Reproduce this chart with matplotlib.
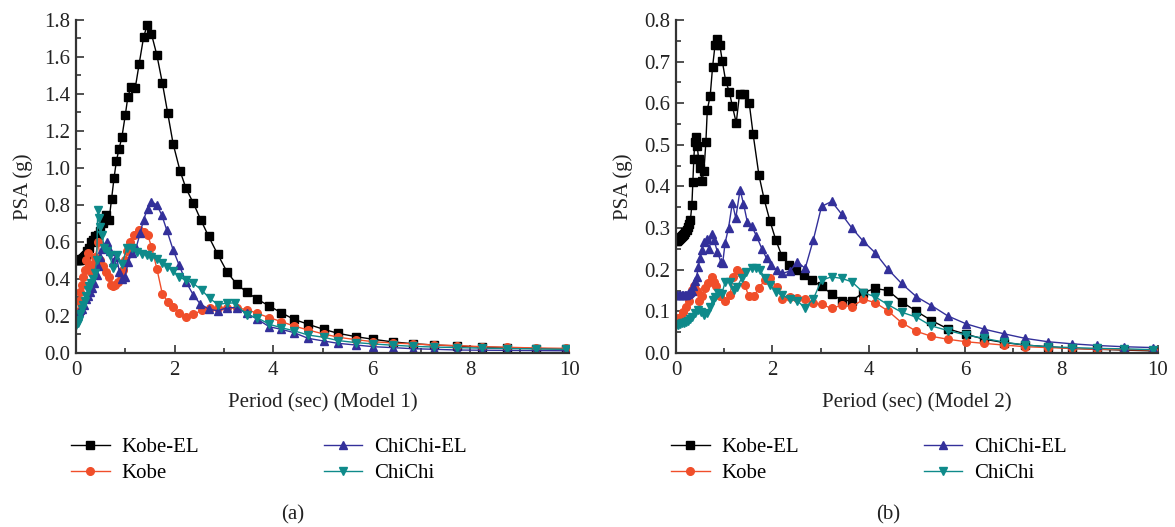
import matplotlib
matplotlib.use("Agg")
import matplotlib.pyplot as plt
from matplotlib.ticker import MultipleLocator, FormatStrFormatter

plt.rcParams['font.family'] = ['Liberation Serif', 'DejaVu Serif']

# ---- Model 1 (left panel) ----
m1_kobe_el_t = [0.0, 0.02, 0.04, 0.06, 0.08, 0.10, 0.12, 0.14, 0.16, 0.18, 0.20, 0.23, 0.26, 0.30, 0.34,
                0.39, 0.44, 0.49, 0.55, 0.61, 0.67, 0.72, 0.77, 0.82, 0.87, 0.93, 1.00, 1.05, 1.11, 1.20,
                1.28, 1.37, 1.44, 1.53, 1.64, 1.75, 1.86, 1.97, 2.11, 2.23, 2.38, 2.53, 2.69, 2.87, 3.06,
                3.26, 3.46, 3.68, 3.92, 4.16, 4.42, 4.71, 5.02, 5.32, 5.68, 6.03, 6.42, 6.84, 7.27, 7.73,
                8.24, 8.75, 9.32, 9.93]
m1_kobe_el_psa = [0.50, 0.50, 0.50, 0.50, 0.505, 0.51, 0.51, 0.515, 0.52, 0.525, 0.53, 0.55, 0.57, 0.60, 0.61,
                  0.63, 0.64, 0.66, 0.70, 0.745, 0.72, 0.83, 0.944, 1.04, 1.10, 1.166, 1.287, 1.382, 1.436, 1.43,
                  1.562, 1.706, 1.771, 1.724, 1.61, 1.461, 1.296, 1.13, 0.984, 0.89, 0.81, 0.72, 0.63, 0.535, 0.44,
                  0.371, 0.33, 0.29, 0.254, 0.218, 0.182, 0.155, 0.128, 0.106, 0.088, 0.074, 0.06, 0.05, 0.043, 0.038,
                  0.032, 0.029, 0.024, 0.022]

m1_kobe_t = [0.0, 0.03, 0.06, 0.09, 0.12, 0.15, 0.18, 0.21, 0.24, 0.27, 0.30, 0.34, 0.39, 0.45, 0.49,
             0.55, 0.61, 0.66, 0.70, 0.75, 0.80, 0.85, 0.91, 0.96, 1.00, 1.04, 1.09, 1.17, 1.28, 1.37,
             1.45, 1.53, 1.64, 1.75, 1.86, 1.97, 2.09, 2.23, 2.38, 2.55, 2.71, 2.87, 3.06, 3.26, 3.46,
             3.68, 3.92, 4.16, 4.42, 4.71, 5.02, 5.32, 5.68, 6.03, 6.42, 6.84, 7.27, 7.73, 8.24, 8.75,
             9.32, 9.93]
m1_kobe_psa = [0.18, 0.22, 0.28, 0.33, 0.37, 0.41, 0.45, 0.50, 0.54, 0.47, 0.44, 0.48, 0.52, 0.60, 0.50,
               0.47, 0.44, 0.41, 0.37, 0.36, 0.37, 0.385, 0.42, 0.45, 0.50, 0.55, 0.60, 0.64, 0.665, 0.655,
               0.64, 0.575, 0.455, 0.32, 0.277, 0.25, 0.218, 0.196, 0.209, 0.23, 0.243, 0.243, 0.243, 0.243, 0.235,
               0.214, 0.191, 0.17, 0.146, 0.124, 0.103, 0.085, 0.072, 0.061, 0.054, 0.049, 0.043, 0.04, 0.034, 0.031,
               0.027, 0.025]

m1_chichi_el_t = [0.0, 0.03, 0.06, 0.09, 0.12, 0.16, 0.20, 0.24, 0.28, 0.32, 0.37, 0.42, 0.45, 0.49, 0.53,
                  0.58, 0.63, 0.69, 0.75, 0.82, 0.88, 0.93, 0.99, 1.06, 1.13, 1.22, 1.30, 1.37, 1.45, 1.53,
                  1.64, 1.74, 1.84, 1.97, 2.09, 2.23, 2.38, 2.52, 2.70, 2.88, 3.06, 3.26, 3.46, 3.68, 3.92,
                  4.16, 4.42, 4.71, 5.02, 5.32, 5.68, 6.03, 6.42, 6.84, 7.27, 7.73, 8.24, 8.75, 9.32, 9.93]
m1_chichi_el_psa = [0.20, 0.21, 0.22, 0.23, 0.24, 0.26, 0.29, 0.31, 0.33, 0.35, 0.38, 0.42, 0.47, 0.52, 0.56,
                    0.58, 0.60, 0.55, 0.49, 0.52, 0.44, 0.40, 0.41, 0.49, 0.54, 0.57, 0.647, 0.72, 0.78, 0.818,
                    0.80, 0.745, 0.665, 0.557, 0.476, 0.385, 0.313, 0.265, 0.236, 0.228, 0.245, 0.245, 0.215, 0.182, 0.142,
                    0.128, 0.11, 0.079, 0.065, 0.052, 0.043, 0.034, 0.029, 0.023, 0.02, 0.016, 0.015, 0.014, 0.013, 0.012]

m1_chichi_t = [0.0, 0.03, 0.06, 0.09, 0.12, 0.15, 0.18, 0.21, 0.24, 0.27, 0.30, 0.34, 0.38, 0.42, 0.44,
               0.47, 0.49, 0.53, 0.57, 0.62, 0.68, 0.75, 0.83, 0.93, 1.03, 1.13, 1.23, 1.33, 1.43, 1.53,
               1.64, 1.74, 1.84, 1.97, 2.09, 2.23, 2.38, 2.55, 2.71, 2.88, 3.06, 3.23, 3.46, 3.68, 3.92,
               4.16, 4.42, 4.71, 5.02, 5.32, 5.68, 6.03, 6.42, 6.84, 7.27, 7.73, 8.24, 8.75, 9.32, 9.93]
m1_chichi_psa = [0.15, 0.16, 0.18, 0.21, 0.24, 0.26, 0.28, 0.31, 0.34, 0.36, 0.376, 0.40, 0.43, 0.50, 0.773,
                 0.728, 0.68, 0.64, 0.57, 0.55, 0.53, 0.457, 0.53, 0.48, 0.565, 0.565, 0.545, 0.535, 0.53, 0.52,
                 0.51, 0.485, 0.467, 0.444, 0.41, 0.394, 0.376, 0.34, 0.295, 0.262, 0.27, 0.27, 0.205, 0.19, 0.155,
                 0.137, 0.12, 0.097, 0.085, 0.067, 0.056, 0.049, 0.042, 0.036, 0.032, 0.029, 0.026, 0.024, 0.022, 0.02]

# ---- Model 2 (right panel) ----
m2_kobe_el_t = [0.0, 0.02, 0.04, 0.06, 0.08, 0.10, 0.12, 0.14, 0.16, 0.19, 0.22, 0.25, 0.28, 0.30, 0.33,
                0.35, 0.37, 0.39, 0.42, 0.44, 0.47, 0.50, 0.54, 0.58, 0.62, 0.65, 0.71, 0.76, 0.81, 0.86,
                0.91, 0.96, 1.03, 1.11, 1.17, 1.25, 1.32, 1.42, 1.52, 1.60, 1.72, 1.83, 1.95, 2.07, 2.20,
                2.34, 2.50, 2.66, 2.83, 3.02, 3.23, 3.44, 3.65, 3.89, 4.13, 4.40, 4.68, 4.99, 5.30, 5.64,
                6.02, 6.40, 6.81, 7.25, 7.72, 8.22, 8.74, 9.30, 9.90]
m2_kobe_el_psa = [0.27, 0.27, 0.272, 0.274, 0.276, 0.278, 0.28, 0.283, 0.286, 0.29, 0.295, 0.303, 0.31, 0.32, 0.356,
                  0.41, 0.466, 0.506, 0.518, 0.498, 0.466, 0.444, 0.413, 0.437, 0.506, 0.584, 0.618, 0.688, 0.739, 0.755,
                  0.739, 0.702, 0.654, 0.626, 0.593, 0.553, 0.623, 0.623, 0.60, 0.526, 0.428, 0.369, 0.317, 0.272, 0.232,
                  0.212, 0.20, 0.188, 0.175, 0.16, 0.142, 0.126, 0.126, 0.145, 0.155, 0.15, 0.123, 0.1, 0.078, 0.058,
                  0.045, 0.033, 0.025, 0.019, 0.015, 0.011, 0.009, 0.007, 0.005]

m2_kobe_t = [0.0, 0.05, 0.10, 0.15, 0.20, 0.26, 0.33, 0.38, 0.43, 0.48, 0.53, 0.60, 0.67, 0.74, 0.79,
             0.84, 0.91, 1.02, 1.12, 1.19, 1.27, 1.34, 1.43, 1.51, 1.62, 1.72, 1.85, 1.96, 2.09, 2.21,
             2.36, 2.52, 2.68, 2.85, 3.02, 3.23, 3.44, 3.65, 3.89, 4.13, 4.40, 4.68, 4.99, 5.30, 5.64,
             6.02, 6.40, 6.81, 7.25, 7.72, 8.22, 8.74, 9.30, 9.90]
m2_kobe_psa = [0.079, 0.083, 0.087, 0.098, 0.11, 0.126, 0.151, 0.16, 0.15, 0.126, 0.136, 0.155, 0.167, 0.183, 0.171,
               0.16, 0.136, 0.124, 0.14, 0.183, 0.199, 0.191, 0.163, 0.136, 0.136, 0.157, 0.175, 0.179, 0.159, 0.13,
               0.134, 0.132, 0.13, 0.119, 0.117, 0.107, 0.115, 0.111, 0.129, 0.121, 0.101, 0.073, 0.052, 0.04, 0.033,
               0.027, 0.023, 0.019, 0.015, 0.013, 0.011, 0.009, 0.008, 0.007]

m2_chichi_el_t = [0.0, 0.03, 0.06, 0.09, 0.12, 0.15, 0.18, 0.21, 0.24, 0.27, 0.30, 0.33, 0.36, 0.40, 0.43,
                  0.46, 0.50, 0.53, 0.58, 0.64, 0.69, 0.74, 0.79, 0.86, 0.93, 0.97, 1.02, 1.09, 1.17, 1.24,
                  1.33, 1.40, 1.48, 1.57, 1.67, 1.78, 1.88, 1.98, 2.09, 2.21, 2.36, 2.52, 2.68, 2.85, 3.02,
                  3.23, 3.44, 3.65, 3.89, 4.13, 4.40, 4.68, 4.99, 5.30, 5.64, 6.02, 6.40, 6.81, 7.25, 7.72,
                  8.22, 8.74, 9.30, 9.90]
m2_chichi_el_psa = [0.14, 0.14, 0.14, 0.14, 0.14, 0.14, 0.14, 0.14, 0.141, 0.143, 0.146, 0.15, 0.16, 0.172, 0.183,
                    0.206, 0.227, 0.247, 0.267, 0.273, 0.25, 0.287, 0.271, 0.243, 0.219, 0.217, 0.265, 0.30, 0.361, 0.324,
                    0.392, 0.359, 0.315, 0.305, 0.281, 0.251, 0.227, 0.211, 0.199, 0.191, 0.197, 0.219, 0.203, 0.272, 0.352,
                    0.364, 0.333, 0.30, 0.268, 0.241, 0.201, 0.167, 0.135, 0.114, 0.089, 0.07, 0.057, 0.046, 0.035, 0.027,
                    0.022, 0.018, 0.015, 0.013]

m2_chichi_t = [0.0, 0.04, 0.08, 0.12, 0.16, 0.20, 0.25, 0.29, 0.33, 0.40, 0.46, 0.52, 0.59, 0.65, 0.71,
               0.76, 0.81, 0.88, 0.95, 1.02, 1.12, 1.20, 1.27, 1.36, 1.46, 1.57, 1.66, 1.74, 1.85, 1.95,
               2.08, 2.21, 2.36, 2.52, 2.68, 2.85, 3.02, 3.23, 3.44, 3.65, 3.89, 4.13, 4.40, 4.68, 4.99,
               5.30, 5.64, 6.02, 6.40, 6.81, 7.25, 7.72, 8.22, 8.74, 9.30, 9.90]
m2_chichi_psa = [0.067, 0.068, 0.07, 0.071, 0.072, 0.075, 0.078, 0.082, 0.087, 0.095, 0.103, 0.098, 0.091, 0.095, 0.111,
                 0.127, 0.135, 0.143, 0.141, 0.171, 0.171, 0.151, 0.159, 0.179, 0.195, 0.203, 0.203, 0.199, 0.18, 0.163,
                 0.147, 0.139, 0.129, 0.125, 0.108, 0.13, 0.175, 0.183, 0.179, 0.171, 0.145, 0.135, 0.116, 0.098, 0.086,
                 0.065, 0.054, 0.043, 0.035, 0.026, 0.019, 0.015, 0.013, 0.011, 0.01, 0.008]

labels = ["Kobe-EL", "Kobe", "ChiChi-EL", "ChiChi"]
colors = ["#000000", "#F04E2A", "#33309A", "#0E8A8A"]
markers = ["s", "o", "^", "v"]


def draw_panel(ax, curves, ymax, ystep, xlabel):
    for (t, psa), label, color, marker in zip(curves, labels, colors, markers):
        ax.plot(t, psa, color=color, lw=1.0, marker=marker, ms=5.5,
                markeredgecolor=color, markerfacecolor=color, label=label)

    ax.set_xlim(0, 10)
    ax.set_ylim(0, ymax)
    ax.xaxis.set_major_locator(MultipleLocator(2))
    ax.xaxis.set_minor_locator(MultipleLocator(1))
    ax.yaxis.set_major_locator(MultipleLocator(ystep))
    ax.yaxis.set_minor_locator(MultipleLocator(ystep / 2))
    ax.yaxis.set_major_formatter(FormatStrFormatter('%.1f'))

    for side in ("top", "right"):
        ax.spines[side].set_visible(False)
    for side in ("left", "bottom"):
        ax.spines[side].set_linewidth(1.6)
        ax.spines[side].set_color("#333333")
    ax.tick_params(which="both", direction="in", color="#333333", width=1.2,
                   labelsize=15, labelcolor="#222222")
    ax.tick_params(which="major", length=6, pad=4)
    ax.tick_params(which="minor", length=3.5)
    ax.tick_params(axis="x", which="major", pad=6)

    ax.set_xlabel(xlabel, fontsize=15, color="#222222", labelpad=9)
    ax.set_ylabel("PSA (g)", fontsize=15, color="#222222", labelpad=8)

    ax.legend(loc="upper left", bbox_to_anchor=(-0.01, -0.255), ncol=2, frameon=False,
              fontsize=15, handlelength=1.85, handletextpad=0.55, columnspacing=6.0,
              labelspacing=0.3, borderpad=0, borderaxespad=0)


fig = plt.figure(figsize=(11.75, 5.27), dpi=100)
ax1 = fig.add_axes([0.0647, 0.3302, 0.4196, 0.6319])
ax2 = fig.add_axes([0.5753, 0.3302, 0.4102, 0.6319])

draw_panel(ax1, [(m1_kobe_el_t, m1_kobe_el_psa), (m1_kobe_t, m1_kobe_psa),
                 (m1_chichi_el_t, m1_chichi_el_psa), (m1_chichi_t, m1_chichi_psa)],
           1.8, 0.2, "Period (sec) (Model 1)")
draw_panel(ax2, [(m2_kobe_el_t, m2_kobe_el_psa), (m2_kobe_t, m2_kobe_psa),
                 (m2_chichi_el_t, m2_chichi_el_psa), (m2_chichi_t, m2_chichi_psa)],
           0.8, 0.1, "Period (sec) (Model 2)")

fig.text(293 / 1175, 1 - 515 / 527, "(a)", ha="center", va="center", fontsize=15, color="#222222")
fig.text(888 / 1175, 1 - 515 / 527, "(b)", ha="center", va="center", fontsize=15, color="#222222")

fig.savefig("out.png", dpi=100)
